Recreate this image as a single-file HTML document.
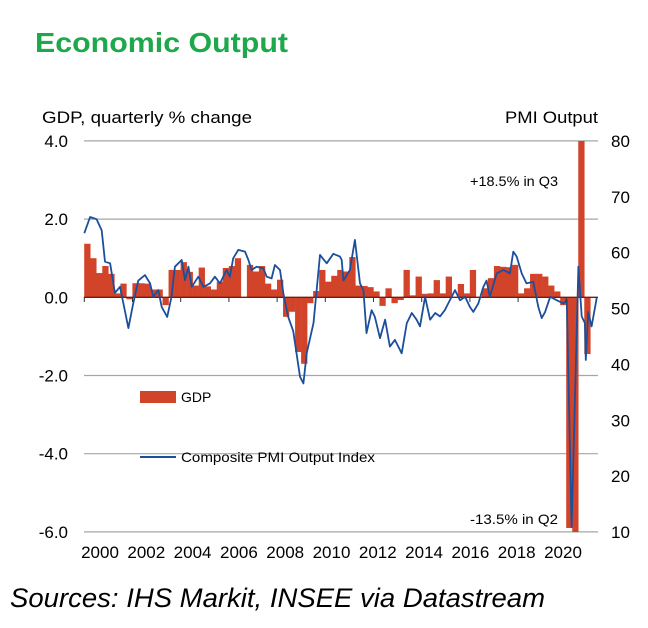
<!DOCTYPE html>
<html><head><meta charset="utf-8"><style>
body{margin:0;background:#fff;width:648px;height:623px;overflow:hidden;font-family:"Liberation Sans",sans-serif}
</style></head><body>
<svg width="648" height="623" xmlns="http://www.w3.org/2000/svg" font-family="Liberation Sans, sans-serif">
<text x="35" y="52" font-size="28" font-weight="bold" fill="#1ea84b" textLength="253" lengthAdjust="spacingAndGlyphs">Economic Output</text>
<text x="42" y="123" font-size="17" fill="#000" textLength="210" lengthAdjust="spacingAndGlyphs">GDP, quarterly % change</text>
<text x="505" y="123" font-size="17" fill="#000" textLength="93" lengthAdjust="spacingAndGlyphs">PMI Output</text>
<g id="grid"></g><g id="bars"></g><g id="zero"></g><g id="line"></g><g id="axes"></g>
<rect x="140" y="391" width="36" height="12" fill="#d2442a"/>
<text x="181" y="402" font-size="14">GDP</text>
<line x1="140" y1="457" x2="176" y2="457" stroke="#1b4f9c" stroke-width="2"/>
<text x="181" y="462" font-size="14" textLength="194" lengthAdjust="spacingAndGlyphs">Composite PMI Output Index</text>
<text x="470" y="186" font-size="14" textLength="88" lengthAdjust="spacingAndGlyphs">+18.5% in Q3</text>
<text x="470" y="524" font-size="14" textLength="88" lengthAdjust="spacingAndGlyphs">-13.5% in Q2</text>
<text x="10" y="607" font-size="27" font-style="italic" textLength="535" lengthAdjust="spacingAndGlyphs">Sources: IHS Markit, INSEE via Datastream</text>
</svg>
<script>
const gdpValues=[1.37,1.0,0.62,0.8,0.6,0.1,0.35,-0.05,0.36,0.36,0.35,0.2,0.2,-0.2,0.7,0.7,0.9,0.65,0.3,0.76,0.28,0.2,0.4,0.75,0.8,1.0,0.0,0.83,0.66,0.8,0.35,0.2,0.45,-0.5,-0.37,-1.4,-1.7,-0.15,0.16,0.7,0.4,0.55,0.7,0.66,1.03,0.3,0.29,0.26,0.15,-0.22,0.23,-0.15,-0.07,0.7,0.05,0.53,0.09,0.1,0.44,0.1,0.53,0.0,0.34,0.1,0.7,0.0,0.23,0.49,0.8,0.78,0.77,0.83,0.1,0.23,0.6,0.6,0.53,0.3,0.15,-0.2,-5.9,-13.5,18.5,-1.45];
const pmiYears=[0,0.24,0.51,0.72,0.86,1.07,1.27,1.48,1.62,1.83,2.03,2.24,2.52,2.73,2.86,3.07,3.21,3.44,3.62,3.76,4.04,4.18,4.32,4.46,4.73,4.94,5.21,5.42,5.63,5.9,6.04,6.18,6.39,6.67,6.81,6.94,7.15,7.43,7.57,7.77,7.91,8.12,8.26,8.46,8.67,8.95,9.09,9.23,9.51,9.78,10.06,10.33,10.61,10.68,10.75,11.02,11.23,11.44,11.58,11.71,11.92,12.06,12.27,12.48,12.68,12.89,13.17,13.38,13.59,13.79,13.93,14.14,14.35,14.56,14.76,14.96,15.1,15.24,15.38,15.59,15.8,16.0,16.14,16.35,16.56,16.69,16.83,17.11,17.39,17.66,17.8,17.94,18.15,18.35,18.63,18.84,18.98,19.12,19.33,19.6,19.88,20.02,20.22,20.5,20.64,20.77,20.81,20.91,21.05,21.26];
const pmiValues=[63.5,66.4,66,64,58.4,58.1,52.8,53.9,51,46.5,50.9,55,56,54.5,52.1,53.3,50.3,48.5,52.1,57.5,58.7,55.1,57.5,53.9,55.7,53.9,54.5,55.7,54.5,56.9,55.7,59,60.5,60.2,58.7,56.9,57.5,57.2,55.7,55.4,57.8,56.9,52.7,48.5,46,37.8,36.6,42,47.4,59.6,58.1,59.8,59.3,58.7,55,56.9,62.3,54.5,53.3,45.6,49.7,48.5,44.7,48,43.2,44.4,42,47.4,49.2,48,46.8,52.1,48,49.2,48.6,49.7,50.9,52.1,53.3,51.5,52.1,50.3,49.4,50.9,53.9,55,52.1,56.3,56.9,56.3,60.2,59.3,56.3,54.5,54.8,50.3,48.3,49.4,52.1,51.5,50.9,51.5,10.9,57.5,48.6,47.4,40.8,49.4,46.8,51.9];
const leftTicks=["4.0","2.0","0.0","-2.0","-4.0","-6.0"];
const rightTicks=["80","70","60","50","40","30","20","10"];
const yearLabels=["2000","2002","2004","2006","2008","2010","2012","2014","2016","2018","2020"];
const NS="http://www.w3.org/2000/svg";
const X0=84.3,PX=24.1,TOP=141,BOT=532,L=84,R=598;
const xs=y=>X0+y*PX, yl=v=>297.3-v*39.1, yr=v=>TOP+(80-v)*(BOT-TOP)/70;
function mk(t,a,p){const e=document.createElementNS(NS,t);for(const k in a)e.setAttribute(k,a[k]);document.getElementById(p).appendChild(e);return e;}
leftTicks.forEach(t=>{const v=parseFloat(t),y=yl(v);
 if(v!==0){const g=mk('line',{x1:L,x2:R,y1:y,y2:y,stroke:'#a6a6a6','stroke-width':1.2},'grid');
 
 }
 const tx=mk('text',{x:68,y:y+6,'font-size':17,'text-anchor':'end'},'axes');tx.textContent=t;
 
 });
rightTicks.forEach(t=>{const y=yr(+t);const tx=mk('text',{x:611,y:y+6,'font-size':17},'axes');tx.textContent=t;
 
 });
gdpValues.forEach((v,i)=>{const x=xs(i/4);let a=yl(Math.max(v,0)),b=yl(Math.min(v,0));a=Math.max(a,TOP);b=Math.min(b,BOT);
 const r=mk('rect',{x:x-0.1,y:a,width:6.3,height:Math.max(b-a,0.5),fill:'#d2442a'},'bars');
 
 });
const z=mk('line',{x1:L,x2:R,y1:yl(0),y2:yl(0),stroke:'#7a1a0a','stroke-width':1.3},'zero');


const pts=pmiYears.map((y,i)=>xs(y).toFixed(1)+','+yr(pmiValues[i]).toFixed(1)).join(' ');
const pl=mk('polyline',{points:pts,fill:'none',stroke:'#1b4f9c','stroke-width':1.8,'stroke-linejoin':'round'},'line');


yearLabels.forEach((t,i)=>{const x=xs(i*2);
 const tk=mk('line',{x1:x,x2:x,y1:297,y2:302,stroke:'#333'},'axes');
 
 
 const tx=mk('text',{x:100+i*46.3,y:558,'font-size':17,'text-anchor':'middle'},'axes');tx.textContent=t;
 
 });
</script>
</body></html>
